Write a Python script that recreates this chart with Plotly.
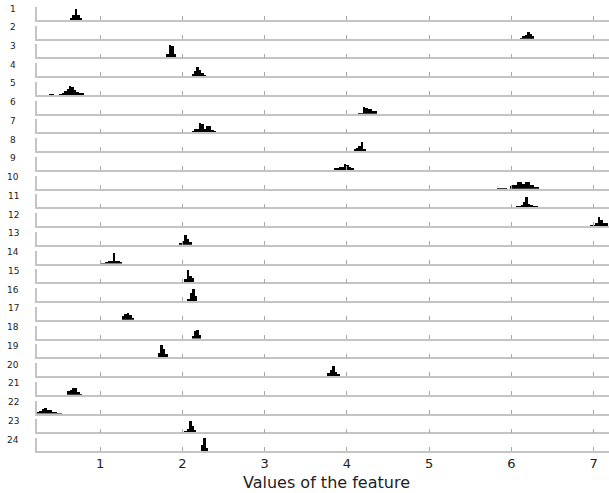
import plotly.graph_objects as go
from plotly.subplots import make_subplots

# ---- data ----
row_labels = [str(i) for i in range(1, 25)]
bin_width = 0.03
bin_starts = [0.63, 6.10, 1.805, 2.11, 0.38, 4.13, 2.11, 4.08, 3.84, 5.83, 6.05, 6.96,
              1.96, 1.00, 2.02, 2.06, 1.26, 2.11, 1.70, 3.76, 0.60, 0.23, 2.02, 2.22]
counts_1 = [2, 5, 11.5, 5.5, 2]
counts_2 = [1, 3, 4, 7, 5, 3]
counts_3 = [3, 12, 11, 3]
counts_4 = [2, 5, 9, 6, 3, 1]
counts_5 = [0.7, 0.7, 0, 0, 1, 2, 4, 6, 9, 8, 5, 3, 2, 2]
counts_6 = [1, 1, 7, 6, 5, 5, 3, 3]
counts_7 = [1, 3, 3, 9, 8, 3, 6, 6, 2, 1]
counts_8 = [2, 3, 5, 9, 2]
counts_9 = [2, 2, 3, 3, 6, 5, 3, 2]
counts_10 = [0.7, 0.7, 0.7, 0.7, 0, 3, 4, 4, 7, 7, 5, 7, 7, 4, 4, 2, 2]
counts_11 = [1, 1, 2, 5, 10, 3, 2, 1, 1]
counts_12 = [1, 1, 3, 9.5, 6, 3, 3]
counts_13 = [2, 4, 10.5, 6, 3]
counts_14 = [0.7, 0.7, 2, 3, 3, 11, 3, 3, 2]
counts_15 = [3, 12, 6, 4]
counts_16 = [2, 8, 12, 5]
counts_17 = [4, 6, 7, 5, 2]
counts_18 = [3, 8, 8.7, 4]
counts_19 = [4, 12.5, 8, 3]
counts_20 = [3, 6, 10, 4, 1.5]
counts_21 = [4, 5, 7, 7, 3, 0.7]
counts_22 = [2, 3, 5, 6, 4, 4, 2, 2, 0.7, 0.7]
counts_23 = [1, 3, 11.5, 6, 2]
counts_24 = [6, 12.8, 3]
all_counts = [counts_1, counts_2, counts_3, counts_4, counts_5, counts_6, counts_7, counts_8,
              counts_9, counts_10, counts_11, counts_12, counts_13, counts_14, counts_15,
              counts_16, counts_17, counts_18, counts_19, counts_20, counts_21, counts_22,
              counts_23, counts_24]
x_ticks = [1, 2, 3, 4, 5, 6, 7]
x_range = [0.231, 7.186]
x_title = "Values of the feature"

# ---- figure ----
n = len(row_labels)
W, H = 609, 493
ml, mr, mt, mb = 37, 0, 7, 42
plot_w = W - ml - mr
plot_h = H - mt - mb
gap_px = (plot_h - n * 13) / (n - 1)

fig = make_subplots(rows=n, cols=1, shared_xaxes=True,
                    vertical_spacing=gap_px / plot_h)

line_col = "#c4c4c4"
for i in range(n):
    start = bin_starts[i]
    cnts = all_counts[i]
    xs = [start + (k + 0.5) * bin_width for k in range(len(cnts))]
    fig.add_trace(go.Bar(x=xs, y=cnts, width=bin_width,
                         marker=dict(color="black", line=dict(width=0)),
                         showlegend=False, hoverinfo="skip"),
                  row=i + 1, col=1)
    fig.update_yaxes(range=[0, 13], showline=True, linecolor=line_col, linewidth=1.5,
                     showgrid=False, zeroline=False, showticklabels=False, ticks="",
                     automargin=False, row=i + 1, col=1)
    fig.update_xaxes(range=x_range, showline=True, linecolor=line_col, linewidth=1.5,
                     showgrid=False, zeroline=False, ticks="inside", ticklen=4,
                     tickwidth=1, tickcolor="#aaaaaa", tickvals=x_ticks,
                     showticklabels=(i == n - 1), automargin=False,
                     ticklabelstandoff=0,
                     tickfont=dict(family="DejaVu Sans", size=13, color="#222222"),
                     row=i + 1, col=1)
    yref = "y domain" if i == 0 else f"y{i + 1} domain"
    fig.add_annotation(text=row_labels[i], xref="paper", yref=yref,
                       x=(13 - ml) / plot_w, y=1, xanchor="center", yanchor="middle",
                       yshift=-1.5, showarrow=False,
                       font=dict(family="DejaVu Sans", size=9, color="#222222"))

fig.add_annotation(text=x_title, xref="paper", yref="paper",
                   x=(326 - ml) / plot_w, y=-(482 - (H - mb)) / plot_h,
                   xanchor="center", yanchor="middle", showarrow=False,
                   font=dict(family="DejaVu Sans", size=16, color="#222222"))
fig.update_layout(width=W, height=H, margin=dict(l=ml, r=mr, t=mt, b=mb, autoexpand=False),
                  plot_bgcolor="white", paper_bgcolor="white", bargap=0,
                  font=dict(family="DejaVu Sans"))
fig.write_html("out.html", config={"displayModeBar": False},
               post_script="document.body.style.margin='0';document.body.style.padding='0';")
